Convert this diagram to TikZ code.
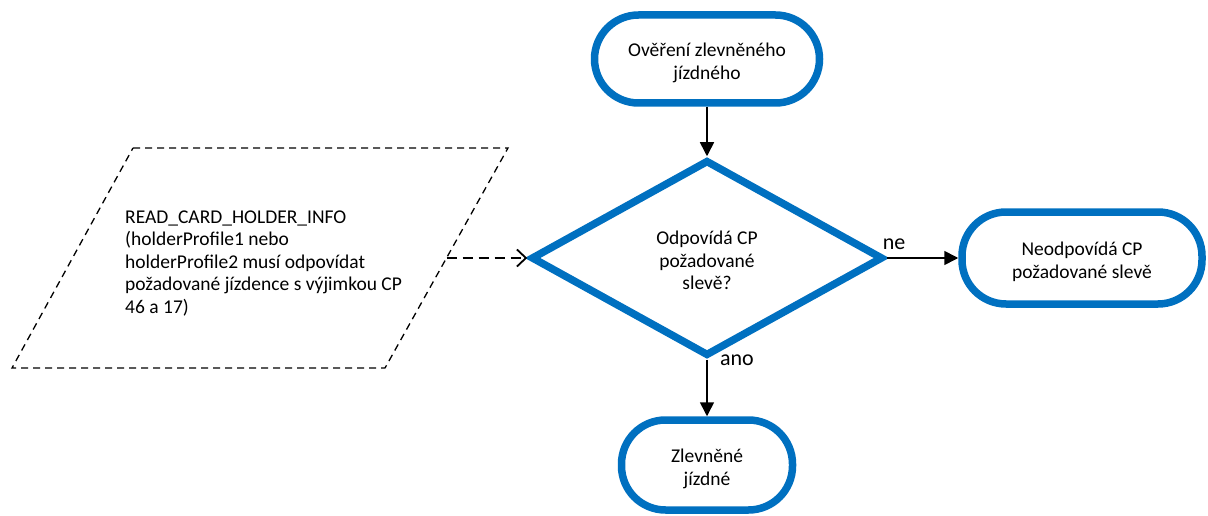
\documentclass[tikz,border=0pt]{standalone}
\usepackage{fontspec}
\setmainfont{Carlito}
\usetikzlibrary{shapes.geometric,arrows.meta}
\definecolor{flowblue}{RGB}{0,112,192}
\newcommand{\lowtext}[2][c]{\raisebox{-4.5pt}[\height][\depth]{\begin{tabular}{@{}#1@{}}#2\end{tabular}}}
\begin{document}
\begin{tikzpicture}[x=1pt,y=-1pt,
  every node/.style={font=\fontsize{19.5}{22.5}\selectfont},
  term/.style={draw=flowblue,line width=7.5pt,fill=white,rounded corners=44pt,align=center,inner sep=0pt},
  decide/.style={draw=flowblue,line width=7.5pt,fill=white,diamond,align=center,inner sep=0pt},
  flow/.style={line width=1.6pt,-{Triangle[length=14pt,width=14pt]}},
  dataflow/.style={line width=1.8pt,dash pattern=on 10pt off 6pt,-{Straight Barb[length=9pt,width=17pt,line width=1.8pt]}},
  iobox/.style={line width=1.3pt,dash pattern=on 7pt off 5pt},
  lbl/.style={font=\fontsize{22}{24}\selectfont}]
\useasboundingbox (0,0) rectangle (1208,516);
\node[term,minimum width=225pt,minimum height=88pt] (start) at (707,59) {\lowtext{Ověření zlevněného\\jízdného}};
\node[decide,minimum width=352pt,minimum height=196pt] (dec) at (707,258) {\lowtext{Odpovídá CP\\požadované\\slevě?}};
\node[term,minimum width=240pt,minimum height=92pt] (no) at (1082,258) {\lowtext{Neodpovídá CP\\požadované slevě}};
\node[term,minimum width=171pt,minimum height=90pt] (yes) at (707,465) {\lowtext{Zlevněné\\jízdné}};
% parallelogram (input data)
\coordinate (p1) at (133,148);
\coordinate (p2) at (508,148);
\coordinate (p3) at (385,368);
\coordinate (p4) at (12,368);
\draw[iobox] (p1) -- (p2) -- (p3) -- (p4) -- cycle;
\node[anchor=west,inner sep=0pt] (info) at (125,259) {\lowtext[l]{READ\_CARD\_HOLDER\_INFO\\(holderProfile1 nebo\\holderProfile2 musí odpovídat\\požadované jízdence s výjimkou CP\\46 a 17)}};
\coordinate (inout) at (446.5,258);
\draw[flow] (start) -- (dec);
\draw[flow] (dec.east) -- (no.west);
\draw[flow] (dec.south) -- (yes.north);
\draw[dataflow] (inout) -- (dec.west);
\node[lbl] (lne) at (894,244) {ne};
\node[lbl] (lano) at (737,360) {ano};
\end{tikzpicture}
\end{document}
